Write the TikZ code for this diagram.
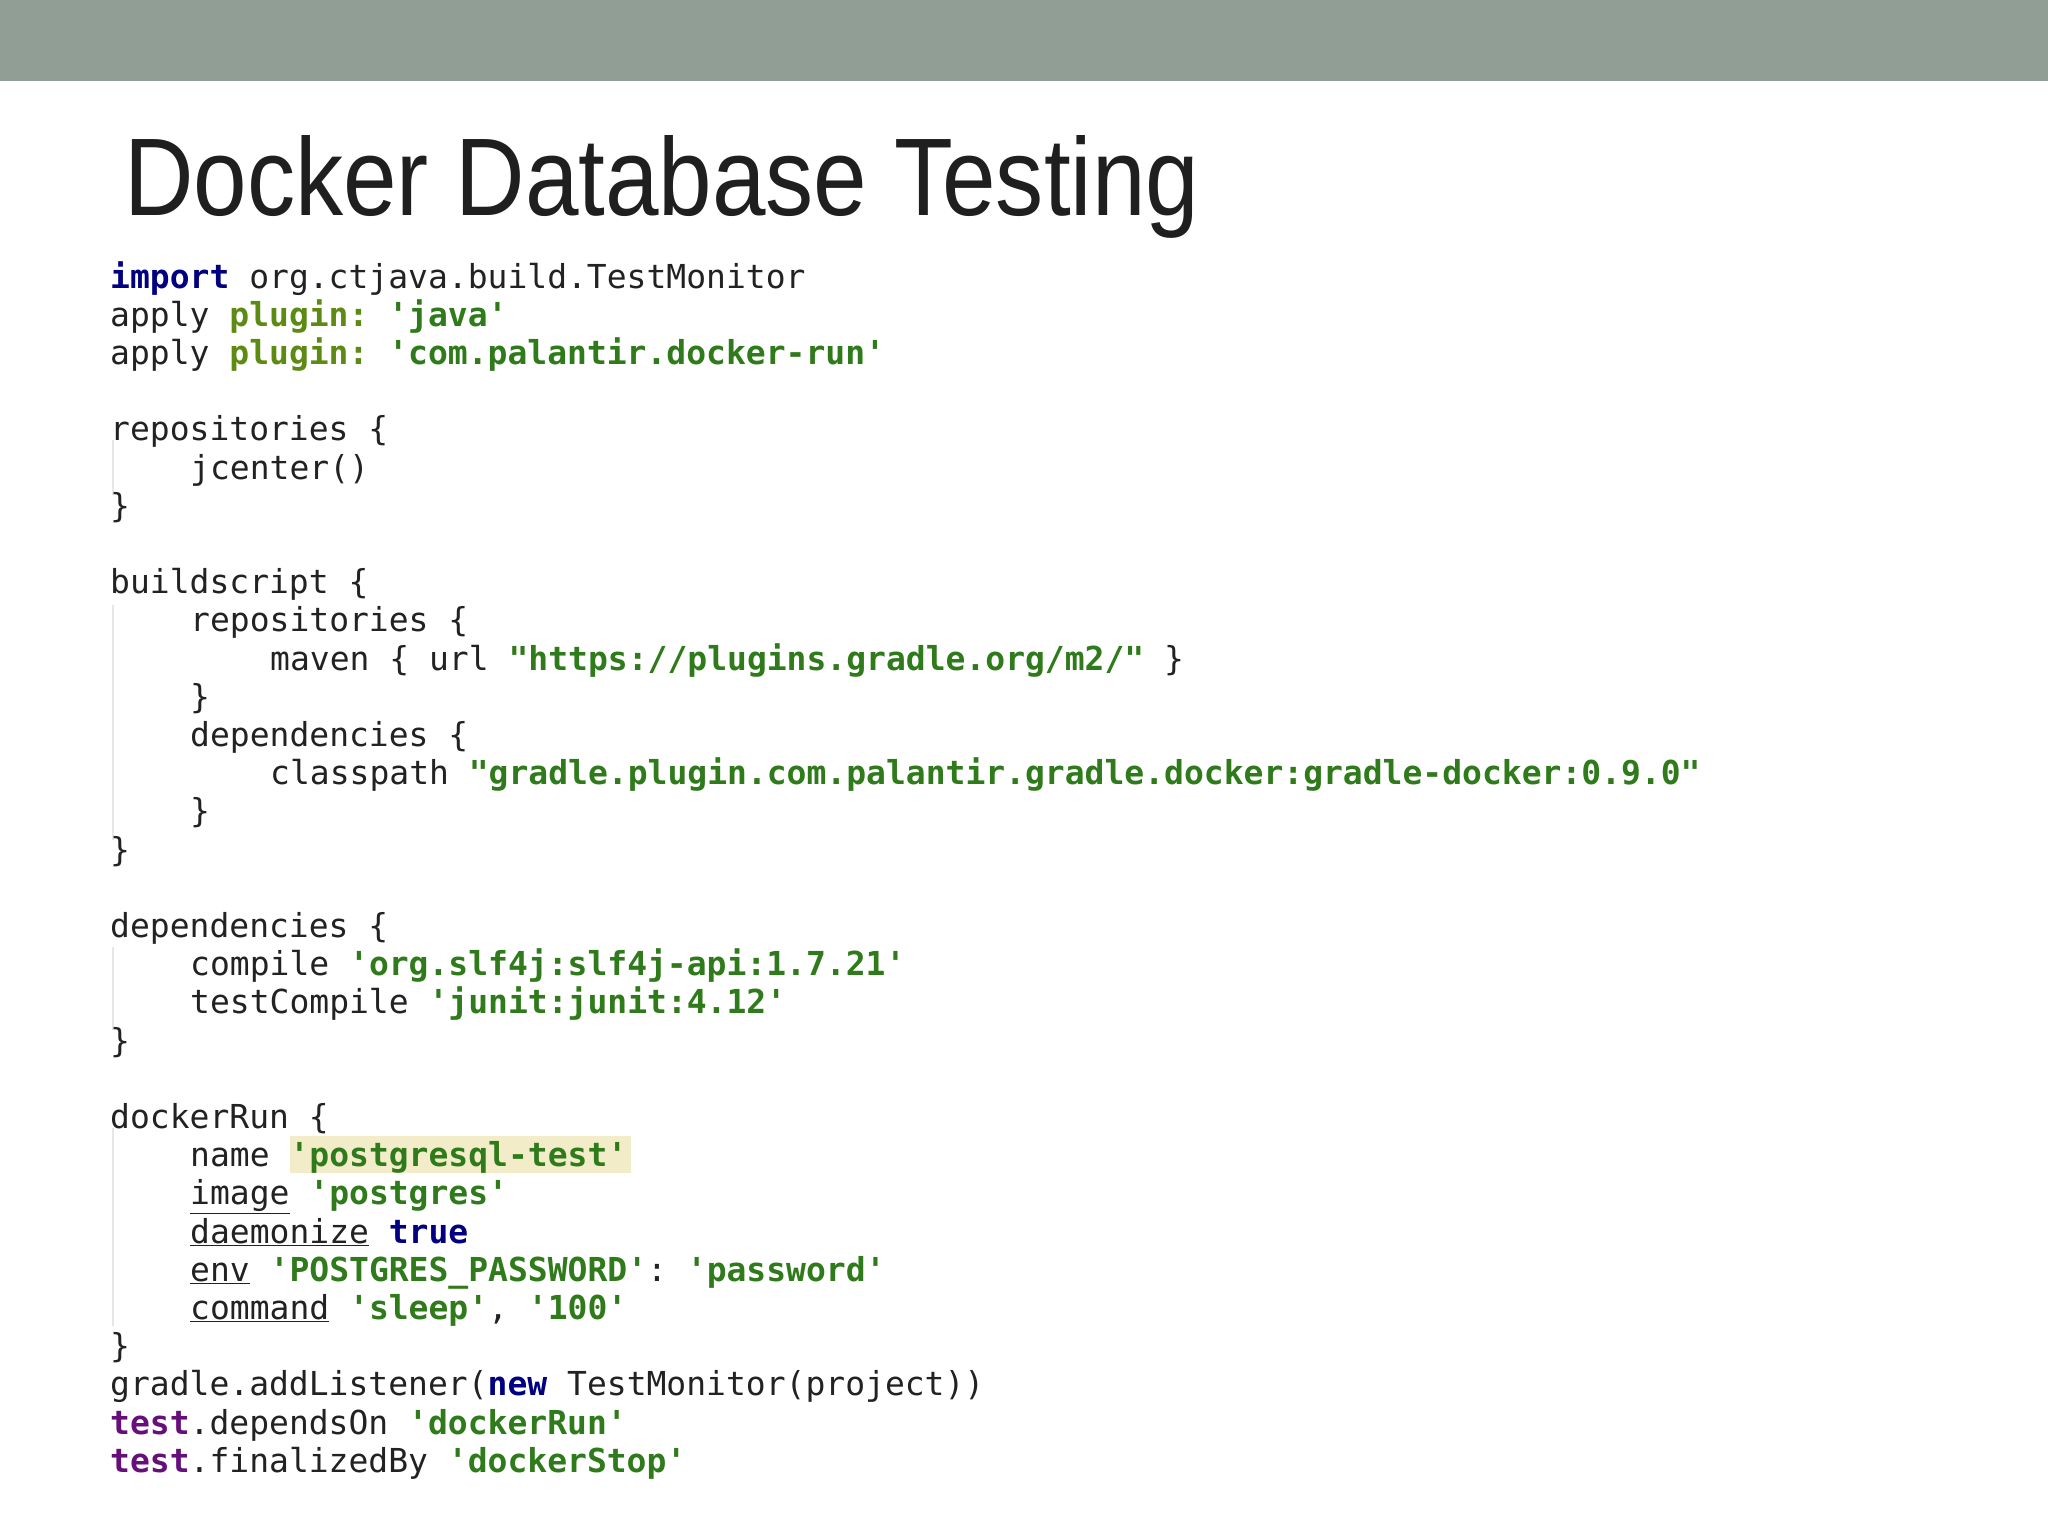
\documentclass[tikz,border=0pt]{standalone}
\usepackage{fontspec}
\setmainfont{Liberation Sans}
\setmonofont{DejaVu Sans Mono}
\definecolor{band}{HTML}{919E96}
\definecolor{kwc}{HTML}{000080}
\definecolor{stc}{HTML}{2F7A1A}
\definecolor{plc}{HTML}{5C8A12}
\definecolor{tpc}{HTML}{660E7A}
\definecolor{codec}{HTML}{222222}
\definecolor{hl}{HTML}{F2EDC8}
\definecolor{guide}{HTML}{E6E6E6}
\newcommand{\kw}[1]{\textbf{\color{kwc}#1}}
\newcommand{\st}[1]{\textbf{\color{stc}#1}}
\newcommand{\pl}[1]{\textbf{\color{plc}#1}}
\newcommand{\tp}[1]{\textbf{\color{tpc}#1}}
\newcommand{\ul}[1]{\underline{#1}}
\begin{document}
\begin{tikzpicture}[x=1pt,y=-1pt,
  code/.style={anchor=base west,inner sep=0pt,font=\ttfamily\fontsize{33}{38}\selectfont,text=codec}]
\useasboundingbox (0,0) rectangle (2048,1536);
\fill[white] (0,0) rectangle (2048,1536);
\fill[band] (0,0) rectangle (2048,81);
\node[anchor=base west,inner sep=0pt,text=codec!90!black] (title) at (124,215)
  {\resizebox{1075pt}{80pt}{\fontsize{100}{110}\selectfont Docker Database Testing}};
% highlight
\fill[hl] (290,1136) rectangle (631,1173);
% indent guides
\foreach \a/\b in {440/495, 605/840, 947/1030, 1128/1326}
  \draw[guide,line width=2pt] (113,\a) -- (113,\b);
\pgfmathsetmacro{\yz}{288}
\def\s{38.2}
\def\xa{110} \def\xb{190} \def\xc{270}
\node[code] (l0) at (\xa,{\yz+0*\s}) {\kw{import} org.ctjava.build.TestMonitor};
\node[code] (l1) at (\xa,{\yz+1*\s}) {apply \pl{plugin:} \st{'java'}};
\node[code] (l2) at (\xa,{\yz+2*\s}) {apply \pl{plugin:} \st{'com.palantir.docker-run'}};
\node[code] (l4) at (\xa,{\yz+4*\s}) {repositories \{};
\node[code] (l5) at (\xb,{\yz+5*\s}) {jcenter()};
\node[code] (l6) at (\xa,{\yz+6*\s}) {\}};
\node[code] (l8) at (\xa,{\yz+8*\s}) {buildscript \{};
\node[code] (l9) at (\xb,{\yz+9*\s}) {repositories \{};
\node[code] (l10) at (\xc,{\yz+10*\s}) {maven \{ url \st{"https://plugins.gradle.org/m2/"} \}};
\node[code] (l11) at (\xb,{\yz+11*\s}) {\}};
\node[code] (l12) at (\xb,{\yz+12*\s}) {dependencies \{};
\node[code] (l13) at (\xc,{\yz+13*\s}) {classpath \st{"gradle.plugin.com.palantir.gradle.docker:gradle-docker:0.9.0"}};
\node[code] (l14) at (\xb,{\yz+14*\s}) {\}};
\node[code] (l15) at (\xa,{\yz+15*\s}) {\}};
\node[code] (l17) at (\xa,{\yz+17*\s}) {dependencies \{};
\node[code] (l18) at (\xb,{\yz+18*\s}) {compile \st{'org.slf4j:slf4j-api:1.7.21'}};
\node[code] (l19) at (\xb,{\yz+19*\s}) {testCompile \st{'junit:junit:4.12'}};
\node[code] (l20) at (\xa,{\yz+20*\s}) {\}};
\node[code] (l22) at (\xa,{\yz+22*\s}) {dockerRun \{};
\node[code] (l23) at (\xb,{\yz+23*\s}) {name \st{'postgresql-test'}};
\node[code] (l24) at (\xb,{\yz+24*\s}) {\ul{image} \st{'postgres'}};
\node[code] (l25) at (\xb,{\yz+25*\s}) {\ul{daemonize} \kw{true}};
\node[code] (l26) at (\xb,{\yz+26*\s}) {\ul{env} \st{'POSTGRES\_PASSWORD'}: \st{'password'}};
\node[code] (l27) at (\xb,{\yz+27*\s}) {\ul{command} \st{'sleep'}, \st{'100'}};
\node[code] (l28) at (\xa,{\yz+28*\s}) {\}};
\node[code] (l29) at (\xa,{\yz+29*\s}) {gradle.addListener(\kw{new} TestMonitor(project))};
\node[code] (l30) at (\xa,{\yz+30*\s}) {\tp{test}.dependsOn \st{'dockerRun'}};
\node[code] (l31) at (\xa,{\yz+31*\s}) {\tp{test}.finalizedBy \st{'dockerStop'}};
\end{tikzpicture}
\end{document}
